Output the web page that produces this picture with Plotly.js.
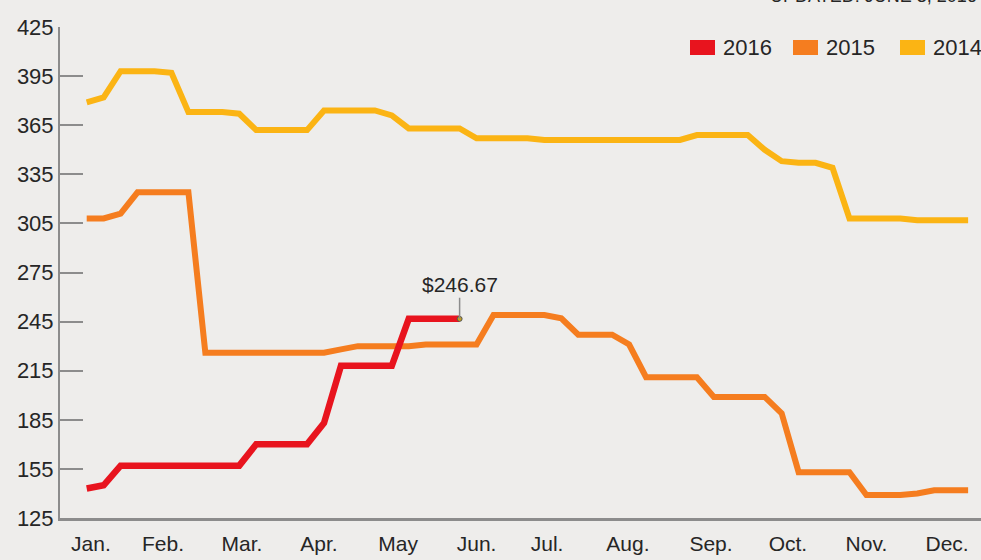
<!DOCTYPE html>
<html>
<head>
<meta charset="utf-8">
<script src="https://cdn.plot.ly/plotly-3.0.1.min.js"></script>
<style>
  html, body { margin: 0; padding: 0; background: #eeedeb; }
  #chart { width: 981px; height: 560px; }
</style>
</head>
<body>
<div id="chart"></div>
<script>
// ---- data ----
const seriesNames = ["2016", "2015", "2014"];
const seriesColors = ["#e8141e", "#f57d1f", "#fbb414"];

const weeks2016 = [0,1,2,3,4,5,6,7,8,9,10,11,12,13,14,15,16,17,18,19,20,21,22];
const price2016 = [143,145,157,157,157,157,157,157,157,157,170,170,170,170,183,218,218,218,218,246.67,246.67,246.67,246.67];

const weeks2015 = [0,1,2,3,4,5,6,7,8,9,10,11,12,13,14,15,16,17,18,19,20,21,22,23,24,25,26,27,28,29,30,31,32,33,34,35,36,37,38,39,40,41,42,43,44,45,46,47,48,49,50,51,52];
const price2015 = [308,308,311,324,324,324,324,226,226,226,226,226,226,226,226,228,230,230,230,230,231,231,231,231,249,249,249,249,247,237,237,237,231,211,211,211,211,199,199,199,199,189,153,153,153,153,139,139,139,140,142,142,142];

const weeks2014 = [0,1,2,3,4,5,6,7,8,9,10,11,12,13,14,15,16,17,18,19,20,21,22,23,24,25,26,27,28,29,30,31,32,33,34,35,36,37,38,39,40,41,42,43,44,45,46,47,48,49,50,51,52];
const price2014 = [379,382,398,398,398,397,373,373,373,372,362,362,362,362,374,374,374,374,371,363,363,363,363,357,357,357,357,356,356,356,356,356,356,356,356,356,359,359,359,359,350,343,342,342,339,308,308,308,308,307,307,307,307];

const monthLabels = ["Jan.","Feb.","Mar.","Apr.","May","Jun.","Jul.","Aug.","Sep.","Oct.","Nov.","Dec."];
const monthTickPos = [0.25,4.5,9.16,13.7,18.37,23.0,27.16,31.93,36.83,41.37,46.0,50.76];
const yTicks = [125,155,185,215,245,275,305,335,365,395,425];
const updatedText = "UPDATED: JUNE 3, 2016";

// ---- layout helpers (pixel -> paper) ----
const W = 981, H = 560, ML = 60, MR = 0, MT = 27, MB = 42;
const PW = W - ML - MR, PH = H - MT - MB;
const px = v => (v - ML) / PW;
const py = v => (H - MB - v) / PH;

const FONT = "Liberation Sans, Arial, sans-serif";
const TXT = "#262626";
const AX = "#8c8c8c";

const traces = [
  {x: weeks2014, y: price2014, name: seriesNames[2], type: "scatter", mode: "lines",
   line: {color: seriesColors[2], width: 6}, hoverinfo: "skip"},
  {x: weeks2015, y: price2015, name: seriesNames[1], type: "scatter", mode: "lines",
   line: {color: seriesColors[1], width: 6}, hoverinfo: "skip"},
  {x: weeks2016, y: price2016, name: seriesNames[0], type: "scatter", mode: "lines",
   line: {color: seriesColors[0], width: 6.5}, hoverinfo: "skip"},
  {x: [weeks2016[weeks2016.length-1]], y: [price2016[price2016.length-1]], type: "scatter", mode: "markers",
   marker: {size: 5, color: "#c9a21a", line: {color: "#555", width: 1}}, hoverinfo: "skip"}
];

// manual legend (swatch rectangles + labels)
const legendX = [690, 793, 900];
const shapes = [];
const annotations = [];
seriesNames.forEach((n, i) => {
  shapes.push({type: "rect", xref: "paper", yref: "paper",
    x0: px(legendX[i]), x1: px(legendX[i] + 25), y0: py(55), y1: py(40),
    fillcolor: seriesColors[i], line: {width: 0}});
  annotations.push({xref: "paper", yref: "paper", x: px(legendX[i] + 31), y: py(47.5),
    xanchor: "left", yanchor: "middle", showarrow: false, text: n,
    font: {family: FONT, size: 22, color: TXT}});
});

const lastI = price2016.length - 1;
annotations.push({
  x: weeks2016[lastI], y: price2016[lastI], xref: "x", yref: "y",
  text: "$" + price2016[lastI].toFixed(2),
  showarrow: true, arrowhead: 0, arrowwidth: 1.5, arrowcolor: "#8c8c8c",
  ax: 0, ay: -34, font: {family: FONT, size: 21, color: TXT}
});
annotations.push({
  xref: "paper", yref: "paper", x: 1, y: 1, xanchor: "right", yanchor: "bottom",
  xshift: -2, yshift: 19, showarrow: false, text: updatedText,
  font: {family: FONT, size: 18, color: TXT}
});

const layout = {
  width: W, height: H,
  margin: {l: ML, r: MR, t: MT, b: MB, pad: 0},
  paper_bgcolor: "#eeedeb", plot_bgcolor: "#eeedeb",
  showlegend: false,
  xaxis: {
    range: [-1.575, 52.76], tickmode: "array", tickvals: monthTickPos, ticktext: monthLabels,
    showline: true, linecolor: AX, linewidth: 2.5, ticks: "", showgrid: false, zeroline: false,
    ticklabelstandoff: 5,
    tickfont: {family: FONT, size: 21, color: TXT}, fixedrange: true
  },
  yaxis: {
    range: [125, 425], tickmode: "array", tickvals: yTicks,
    showline: true, linecolor: AX, linewidth: 2, ticks: "inside", ticklen: 23, tickwidth: 2, tickcolor: AX,
    showgrid: false, zeroline: false,
    tickfont: {family: FONT, size: 22, color: TXT}, fixedrange: true
  },
  shapes: shapes,
  annotations: annotations
};

Plotly.newPlot("chart", traces, layout, {displayModeBar: false, staticPlot: true});
</script>
</body>
</html>
